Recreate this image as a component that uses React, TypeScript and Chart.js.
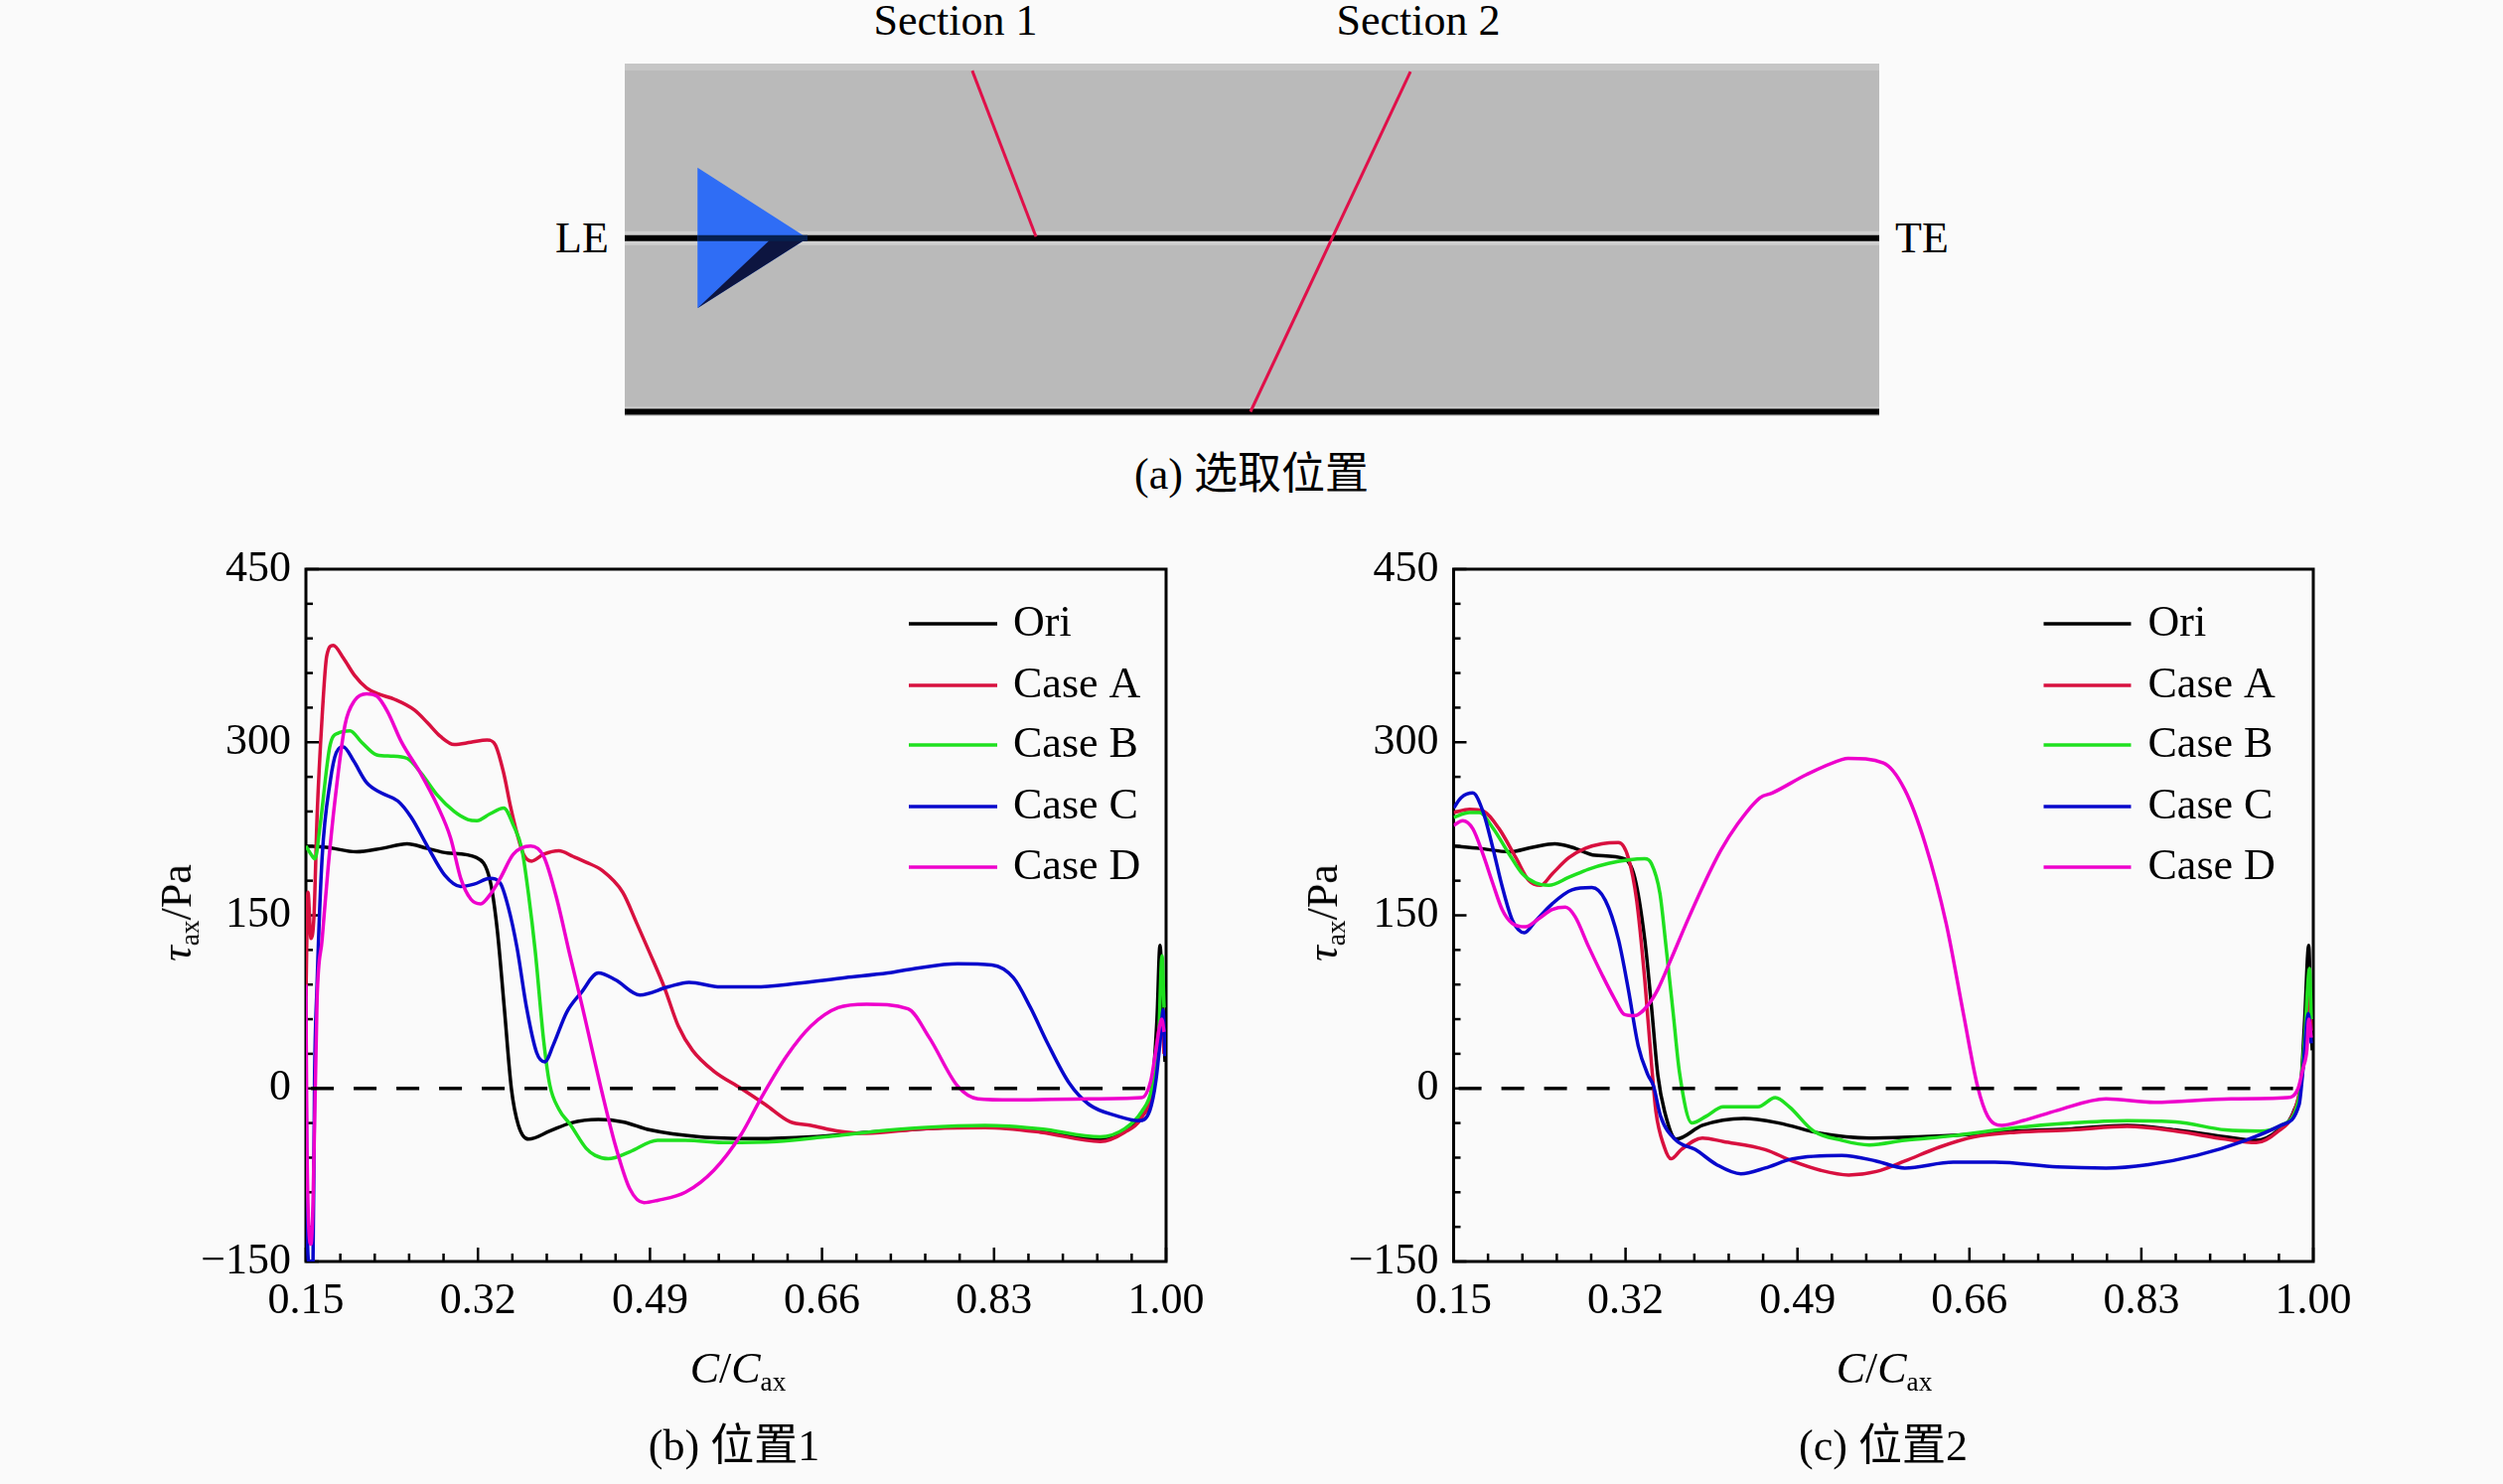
import React, { useEffect, useRef } from "react";
import { Chart, registerables } from "chart.js";

Chart.register(...registerables);

type Pt = [number, number];

const SERIF = '"Liberation Serif", "Noto Sans CJK SC", serif';
const BG = "#fafafa";

const xMajor = [0.15, 0.32, 0.49, 0.66, 0.83, 1.0];
const xMinor = [0.184, 0.218, 0.252, 0.286, 0.354, 0.388, 0.422, 0.456, 0.524, 0.558, 0.592, 0.626, 0.694, 0.728, 0.762, 0.796, 0.864, 0.898, 0.932, 0.966];
const yMajor = [-150, 0, 150, 300, 450];
const yMinor = [-120, -90, -60, -30, 30, 60, 90, 120, 180, 210, 240, 270, 330, 360, 390, 420];

const seriesNames = ["Ori", "Case A", "Case B", "Case C", "Case D"];
const seriesColors = ["#000000", "#d8103f", "#1fe01f", "#0808cc", "#ee00cc"];
const zeroLine: Pt[] = [[0.155, 0], [0.986, 0]];

// Position 1
const p1Ori: Pt[] = [[0.15,210],[0.17,209],[0.2,205],[0.225,208],[0.25,212],[0.27,208],[0.29,204],[0.3186,200],[0.332,180],[0.339,138],[0.346,70],[0.353,0],[0.36,-32],[0.37,-44],[0.391,-37],[0.4115,-30],[0.439,-27],[0.463,-29],[0.49,-36],[0.539,-42],[0.594,-43.5],[0.649,-42],[0.704,-38],[0.759,-35],[0.821,-33],[0.876,-37],[0.935,-44],[0.959,-37],[0.976,-24],[0.986,0],[0.991,60],[0.994,124],[0.997,60],[0.999,23]];
const p1A: Pt[] = [[0.15,80],[0.152,170],[0.155,130],[0.158,150],[0.161,235],[0.166,322],[0.1706,375],[0.177,384],[0.187,373],[0.198,358],[0.21,347],[0.221,342],[0.238,337],[0.257,328],[0.27,317],[0.283,305],[0.2965,298],[0.313,300],[0.329,302],[0.337,298],[0.3455,273],[0.352,245],[0.3586,221],[0.365,203],[0.373,197],[0.385,203],[0.4,206],[0.414,201],[0.427,196],[0.4425,189],[0.463,170],[0.477,143],[0.49,117],[0.504,88],[0.518,54],[0.532,33],[0.553,15],[0.58,0],[0.604,-14],[0.6285,-29],[0.649,-32],[0.676,-37],[0.704,-39],[0.759,-35],[0.821,-34],[0.876,-38],[0.935,-46],[0.959,-38],[0.976,-25],[0.986,-2],[0.991,40],[0.996,60],[0.998,30]];
const p1B: Pt[] = [[0.15,210],[0.155,203],[0.159,199],[0.164,228],[0.174,298],[0.182,308],[0.1935,310],[0.205,300],[0.22,289],[0.234,288],[0.25,286],[0.264,273],[0.28,254],[0.2965,240],[0.31,233],[0.319,232],[0.332,238],[0.3455,243],[0.355,228],[0.3635,207],[0.37,168],[0.3766,119],[0.385,41],[0.391,3],[0.4,-18],[0.411,-31],[0.427,-52],[0.4357,-58],[0.449,-61],[0.47,-55],[0.4975,-45],[0.525,-45],[0.566,-47],[0.615,-46],[0.663,-42],[0.704,-38],[0.759,-34],[0.821,-32],[0.876,-35],[0.935,-42],[0.959,-35],[0.976,-20],[0.986,0],[0.9925,40],[0.996,115],[0.998,70]];
const p1C: Pt[] = [[0.15,30],[0.151,-100],[0.153,-150],[0.157,-150],[0.1585,6],[0.161,90],[0.166,200],[0.174,266],[0.18,291],[0.187,296],[0.197,284],[0.21,265],[0.2245,256],[0.241,249],[0.254,235],[0.27,210],[0.287,185],[0.303,175],[0.316,177],[0.332,182],[0.342,178],[0.35,157],[0.3586,122],[0.368,70],[0.378,31],[0.386,23],[0.3946,38],[0.4077,66],[0.422,83],[0.439,100],[0.456,94],[0.48,81],[0.508,88],[0.5286,92],[0.5596,88],[0.594,88],[0.635,91],[0.683,96],[0.725,100],[0.752,104],[0.794,108],[0.828,107],[0.849,96],[0.866,70],[0.883,39],[0.904,5],[0.924,-14],[0.952,-24],[0.973,-28],[0.984,-19],[0.99,7],[0.995,49],[0.997,68],[0.999,28]];
const p1D: Pt[] = [[0.15,90],[0.151,-50],[0.155,-135],[0.157,-100],[0.161,77],[0.166,129],[0.172,192],[0.179,252],[0.1886,315],[0.198,336],[0.21,342],[0.22,340],[0.231,326],[0.244,301],[0.264,272],[0.28,245],[0.293,217],[0.303,182],[0.313,164],[0.3227,160],[0.332,168],[0.342,182],[0.355,203],[0.372,210],[0.385,201],[0.398,164],[0.411,115],[0.422,75],[0.4425,-3],[0.456,-50],[0.47,-87],[0.484,-99],[0.4975,-97],[0.525,-90],[0.553,-71],[0.58,-40],[0.6,-8],[0.625,28],[0.649,54],[0.676,70],[0.704,73],[0.745,69],[0.766,44],[0.794,2],[0.814,-9],[0.849,-10],[0.924,-9],[0.976,-8],[0.985,7],[0.99,33],[0.9957,60],[0.998,49]];

// Position 2
const p2Ori: Pt[] = [[0.15,210],[0.1755,208],[0.205,205],[0.228,209],[0.25,212],[0.267,209],[0.29,202],[0.319,199],[0.329,183],[0.339,129],[0.3455,72],[0.352,11],[0.3586,-20],[0.37,-44],[0.396,-32],[0.437,-26],[0.4716,-30],[0.513,-39],[0.561,-43],[0.6094,-42],[0.6577,-40],[0.706,-37],[0.761,-35],[0.816,-32],[0.864,-36],[0.913,-42],[0.9436,-45],[0.964,-37],[0.981,-19],[0.988,7],[0.9915,60],[0.9955,124],[0.9976,60],[0.999,33]];
const p2A: Pt[] = [[0.15,239],[0.1657,242],[0.18,240],[0.195,225],[0.2115,200],[0.2245,180],[0.236,176],[0.2475,186],[0.264,200],[0.28,208],[0.2965,212],[0.313,213],[0.3227,200],[0.331,163],[0.339,94],[0.3455,23],[0.35,-20],[0.358,-50],[0.365,-61],[0.375,-53],[0.396,-43],[0.4166,-46],[0.458,-53],[0.485,-63],[0.513,-71],[0.5406,-75],[0.568,-72],[0.596,-63],[0.63,-51],[0.6646,-42],[0.706,-38],[0.761,-36],[0.816,-33],[0.864,-37],[0.913,-44],[0.9436,-47],[0.964,-38],[0.981,-20],[0.988,5],[0.992,40],[0.9955,90],[0.998,50]];
const p2B: Pt[] = [[0.15,235],[0.1657,239],[0.1755,239],[0.1886,226],[0.205,203],[0.218,186],[0.231,178],[0.244,176],[0.264,183],[0.2834,190],[0.303,195],[0.3227,198],[0.339,199],[0.3455,195],[0.354,169],[0.36,123],[0.367,66],[0.3733,14],[0.3856,-30],[0.4,-24],[0.4166,-16],[0.451,-16],[0.468,-8],[0.482,-16],[0.506,-37],[0.534,-45],[0.561,-49],[0.596,-45],[0.644,-41],[0.706,-34],[0.761,-30],[0.816,-28],[0.864,-29],[0.913,-36],[0.947,-37],[0.968,-32],[0.986,-8],[0.9915,44],[0.9963,104],[0.998,60]];
const p2C: Pt[] = [[0.15,243],[0.1575,252],[0.169,256],[0.179,240],[0.1886,209],[0.198,175],[0.208,146],[0.22,135],[0.231,145],[0.2475,160],[0.267,172],[0.2867,174],[0.3,163],[0.313,129],[0.3227,86],[0.3325,37],[0.342,12],[0.3477,2],[0.3546,-24],[0.37,-45],[0.389,-53],[0.41,-66],[0.434,-74],[0.458,-69],[0.485,-61],[0.534,-58],[0.568,-63],[0.596,-69],[0.644,-64],[0.685,-64],[0.747,-68],[0.795,-69],[0.837,-66],[0.885,-58],[0.933,-45],[0.968,-32],[0.986,-14],[0.99,18],[0.995,65],[0.998,39]];
const p2D: Pt[] = [[0.15,228],[0.159,232],[0.169,225],[0.179,203],[0.1886,178],[0.198,155],[0.208,143],[0.221,140],[0.234,147],[0.2475,155],[0.2605,157],[0.27,149],[0.2834,123],[0.2965,99],[0.3095,77],[0.319,64],[0.329,63],[0.342,72],[0.352,86],[0.365,112],[0.3815,146],[0.398,178],[0.414,206],[0.4306,229],[0.453,252],[0.465,256],[0.499,272],[0.534,285],[0.54,286],[0.575,282],[0.596,259],[0.6163,212],[0.637,143],[0.654,65],[0.668,2],[0.678,-24],[0.692,-32],[0.7127,-28],[0.747,-19],[0.795,-9],[0.843,-12],[0.919,-9],[0.974,-8],[0.985,0],[0.99,18],[0.9936,33],[0.9955,60],[0.998,44]];

// Schematic of the passage, in fractions of its width and height
const passage: Pt[] = [[0,0],[1,0],[1,1],[0,1],[0,0]];
const passageTop: Pt[] = [[0,0.98],[1,0.98],[1,1],[0,1],[0,0.98]];
const midLine: Pt[] = [[0,0.505],[1,0.505]];
const baseLine: Pt[] = [[0,0.0127],[1,0.0127]];
const bladeTriangle: Pt[] = [[0.058,0.705],[0.058,0.306],[0.1457,0.505],[0.058,0.705]];
const bladeShade: Pt[] = [[0.058,0.306],[0.1457,0.505],[0.1172,0.505],[0.058,0.306]];
const bladeMid: Pt[] = [[0.058,0.505],[0.1457,0.505]];
const section1: Pt[] = [[0.277,0.98],[0.3278,0.509]];
const section2: Pt[] = [[0.6263,0.977],[0.4988,0.0127]];

function toXY(p: Pt[]) {
  return p.map(([x, y]) => ({ x, y }));
}

const inwardFrame = {
  id: "inwardFrame",
  beforeDatasetsDraw(chart: any) {
    const { ctx, chartArea: a, scales } = chart;
    ctx.save();
    ctx.strokeStyle = "#000";
    ctx.lineWidth = 3;
    ctx.strokeRect(a.left, a.top, a.right - a.left, a.bottom - a.top);
    ctx.lineWidth = 2.5;
    const draw = (x1: number, y1: number, x2: number, y2: number) => {
      ctx.beginPath();
      ctx.moveTo(x1, y1);
      ctx.lineTo(x2, y2);
      ctx.stroke();
    };
    xMajor.forEach((v) => { const x = scales.x.getPixelForValue(v); draw(x, a.bottom, x, a.bottom - 14); });
    xMinor.forEach((v) => { const x = scales.x.getPixelForValue(v); draw(x, a.bottom, x, a.bottom - 8); });
    yMajor.forEach((v) => { const y = scales.y.getPixelForValue(v); draw(a.left, y, a.left + 13, y); });
    yMinor.forEach((v) => { const y = scales.y.getPixelForValue(v); draw(a.left, y, a.left + 7, y); });
    ctx.restore();
  },
};

const insideLegend = {
  id: "insideLegend",
  afterDraw(chart: any, _args: any, opts: any) {
    const { ctx, chartArea: a } = chart;
    const rowY = [55, 117, 177, 239, 300];
    ctx.save();
    ctx.font = `44px ${SERIF}`;
    ctx.textBaseline = "middle";
    ctx.textAlign = "left";
    seriesNames.forEach((name, i) => {
      const y = a.top + rowY[i];
      ctx.strokeStyle = seriesColors[i];
      ctx.lineWidth = 3.5;
      ctx.beginPath();
      ctx.moveTo(a.left + opts.lineFrom, y);
      ctx.lineTo(a.left + opts.lineTo, y);
      ctx.stroke();
      ctx.fillStyle = "#000";
      ctx.fillText(name, a.left + opts.textAt, y);
    });
    ctx.restore();
  },
};

function PlotChart(props: { left: number; top: number; series: Pt[][]; legend: any; yWidth: number }) {
  const ref = useRef<HTMLCanvasElement>(null);
  useEffect(() => {
    const datasets: any[] = props.series.map((s, i) => ({
      label: seriesNames[i],
      data: toXY(s),
      borderColor: seriesColors[i],
      borderWidth: 3.5,
      pointRadius: 0,
      cubicInterpolationMode: "monotone",
      order: 10 - i,
    }));
    datasets.push({
      label: "zero",
      data: toXY(zeroLine),
      borderColor: "#000",
      borderWidth: 3.5,
      borderDash: [23, 20],
      pointRadius: 0,
      order: 0,
    });
    const tickFont = { family: SERIF, size: 44 };
    const chart = new Chart(ref.current as HTMLCanvasElement, {
      type: "line",
      data: { datasets },
      plugins: [inwardFrame, insideLegend],
      options: {
        animation: false,
        responsive: false,
        devicePixelRatio: 1,
        layout: { padding: { top: 33, right: 76, left: 0, bottom: 0 } },
        plugins: { legend: { display: false }, tooltip: { enabled: false }, insideLegend: props.legend } as any,
        scales: {
          x: {
            type: "linear",
            min: 0.15,
            max: 1,
            grid: { display: false, drawTicks: false },
            border: { display: false },
            afterBuildTicks: (s: any) => { s.ticks = xMajor.map((value) => ({ value })); },
            afterFit: (s: any) => { s.height = 90; s.paddingLeft = 0; s.paddingRight = 0; },
            ticks: {
              color: "#000",
              font: tickFont,
              padding: 14,
              maxRotation: 0,
              autoSkip: false,
              callback: (v: any) => Number(v).toFixed(2),
            },
          },
          y: {
            type: "linear",
            min: -150,
            max: 450,
            grid: { display: false, drawTicks: false },
            border: { display: false },
            afterBuildTicks: (s: any) => { s.ticks = yMajor.map((value) => ({ value })); },
            afterFit: (s: any) => { s.width = props.yWidth; s.paddingTop = 0; s.paddingBottom = 0; },
            ticks: {
              color: "#000",
              font: tickFont,
              padding: 15,
              autoSkip: false,
              callback: (v: any) => (Number(v) < 0 ? "\u2212" + Math.abs(Number(v)) : String(v)),
            },
          },
        },
      },
    } as any);
    return () => chart.destroy();
  }, []);
  return (
    <canvas
      ref={ref}
      width={1100}
      height={820}
      style={{ position: "absolute", left: props.left, top: props.top, width: 1100, height: 820 }}
    />
  );
}

function SchematicChart() {
  const ref = useRef<HTMLCanvasElement>(null);
  useEffect(() => {
    const shape = (data: Pt[], color: string) => ({
      data: toXY(data),
      borderColor: color,
      backgroundColor: color,
      borderWidth: 0,
      fill: "shape",
      pointRadius: 0,
    });
    const stroke = (data: Pt[], color: string, width: number) => ({
      data: toXY(data),
      borderColor: color,
      borderWidth: width,
      pointRadius: 0,
      fill: false,
    });
    const layers: any[] = [
      shape(passage, "#bababa"),
      shape(passageTop, "#c6c6c6"),
      stroke(midLine, "#cfcfcf", 14),
      stroke(baseLine, "#cfcfcf", 10),
      stroke(midLine, "#000000", 6),
      stroke(baseLine, "#000000", 6),
      shape(bladeTriangle, "#2f6df5"),
      shape(bladeShade, "#0d1540"),
      stroke(bladeMid, "#06204f", 6),
      stroke(section1, "#e0104a", 3),
      stroke(section2, "#e0104a", 3),
    ];
    layers.forEach((l, i) => { l.order = layers.length - i; });
    const chart = new Chart(ref.current as HTMLCanvasElement, {
      type: "line",
      data: { datasets: layers },
      options: {
        animation: false,
        responsive: false,
        devicePixelRatio: 1,
        layout: { padding: 0 },
        plugins: { legend: { display: false }, tooltip: { enabled: false } },
        scales: {
          x: { type: "linear", min: 0, max: 1, display: false },
          y: { type: "linear", min: 0, max: 1, display: false },
        },
      },
    } as any);
    return () => chart.destroy();
  }, []);
  return (
    <canvas
      ref={ref}
      width={1263}
      height={355}
      style={{ position: "absolute", left: 629, top: 64, width: 1263, height: 355 }}
    />
  );
}

function Label(props: { x: number; y: number; rotate?: boolean; children: React.ReactNode }) {
  return (
    <div
      style={{
        position: "absolute",
        left: props.x,
        top: props.y,
        transform: `translate(-50%, -50%)${props.rotate ? " rotate(-90deg)" : ""}`,
        whiteSpace: "nowrap",
        fontFamily: SERIF,
        fontSize: 44,
        lineHeight: 1,
        color: "#000",
      }}
    >
      {props.children}
    </div>
  );
}

const subStyle: React.CSSProperties = { fontSize: "0.62em", verticalAlign: "-0.3em", lineHeight: 0 };
const Sub = (p: { t: string }) => <span style={subStyle}>{p.t}</span>;

export default function App() {
  return (
    <div style={{ position: "fixed", left: 0, top: 0, width: 2520, height: 1494, background: BG, overflow: "hidden" }}>
      <SchematicChart />
      <PlotChart left={150} top={540} yWidth={158} series={[p1Ori, p1A, p1B, p1C, p1D]} legend={{ lineFrom: 607, lineTo: 696, textAt: 712 }} />
      <PlotChart left={1305} top={540} yWidth={158.5} series={[p2Ori, p2A, p2B, p2C, p2D]} legend={{ lineFrom: 594, lineTo: 682, textAt: 699 }} />

      <Label x={962} y={21}>Section 1</Label>
      <Label x={1428} y={21}>Section 2</Label>
      <Label x={586} y={240}>LE</Label>
      <Label x={1935} y={240}>TE</Label>
      <Label x={1260} y={478}>(a) 选取位置</Label>

      <Label x={178} y={919} rotate><i>τ</i><Sub t="ax" />/Pa</Label>
      <Label x={743} y={1378}><i>C</i>/<i>C</i><Sub t="ax" /></Label>
      <Label x={739} y={1456}>(b) 位置1</Label>

      <Label x={1332} y={919} rotate><i>τ</i><Sub t="ax" />/Pa</Label>
      <Label x={1897} y={1378}><i>C</i>/<i>C</i><Sub t="ax" /></Label>
      <Label x={1896} y={1456}>(c) 位置2</Label>
    </div>
  );
}
